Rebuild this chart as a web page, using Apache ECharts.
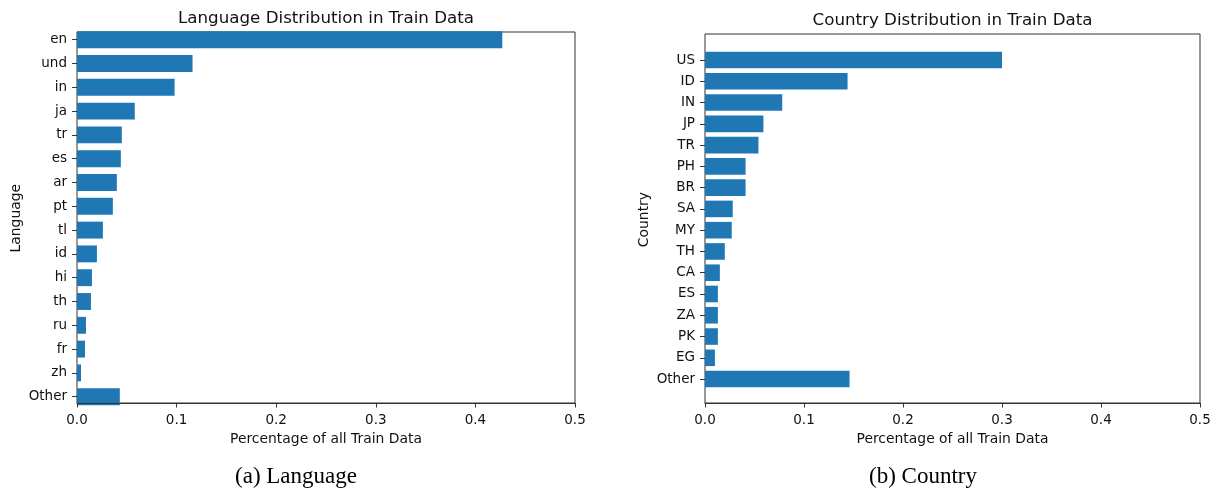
<!DOCTYPE html>
<html>
<head>
<meta charset="utf-8">
<script src="https://cdn.jsdelivr.net/npm/echarts@6/dist/echarts.min.js"></script>
<style>
  html, body { margin: 0; padding: 0; background: #ffffff; }
  #chart { width: 1219px; height: 492px; }
</style>
</head>
<body>
<div id="chart"></div>
<script>
// Share of training data per language and per country
const languages = ['en', 'und', 'in', 'ja', 'tr', 'es', 'ar', 'pt', 'tl', 'id', 'hi', 'th', 'ru', 'fr', 'zh', 'Other'];
const languageShare = [0.427, 0.116, 0.098, 0.058, 0.045, 0.044, 0.040, 0.036, 0.026, 0.020, 0.015, 0.014, 0.009, 0.008, 0.004, 0.043];

const countries = ['US', 'ID', 'IN', 'JP', 'TR', 'PH', 'BR', 'SA', 'MY', 'TH', 'CA', 'ES', 'ZA', 'PK', 'EG', 'Other'];
const countryShare = [0.300, 0.144, 0.078, 0.059, 0.054, 0.041, 0.041, 0.028, 0.027, 0.020, 0.015, 0.013, 0.013, 0.013, 0.010, 0.146];

const shareAxis = { min: 0, max: 0.5, interval: 0.1 };

const BAR = '#1f77b4';
const INK = '#111111';
const FRAME = '#333333';
const SANS = 'DejaVu Sans';
const SERIF = 'Liberation Serif';

// Visible frame + value axis for one panel
function frameGrid(left, top, width, height) {
  return { left, top, width, height, show: true, borderColor: FRAME, borderWidth: 1, backgroundColor: 'transparent', containLabel: false };
}
// Band area that positions the category rows
function bandGrid(left, top, width, height) {
  return { left, top, width, height, show: false, containLabel: false };
}

function shownX(gridIndex) {
  return {
    type: 'value', gridIndex,
    min: shareAxis.min, max: shareAxis.max, interval: shareAxis.interval,
    z: 5,
    axisLine: { show: true, lineStyle: { color: FRAME, width: 1 } },
    axisTick: { show: true, length: 4.5, lineStyle: { color: FRAME } },
    splitLine: { show: false },
    axisLabel: { show: true, margin: 10, color: INK, fontFamily: SANS, fontSize: 13.5, formatter: v => v.toFixed(1), showMaxLabel: true, showMinLabel: true },
    name: 'Percentage of all Train Data',
    nameLocation: 'middle', nameGap: 28,
    nameTextStyle: { color: INK, fontFamily: SANS, fontSize: 13.9 }
  };
}
function hiddenX(gridIndex) {
  return { type: 'value', gridIndex, min: shareAxis.min, max: shareAxis.max, show: false, splitLine: { show: false } };
}
function hiddenY(gridIndex) {
  return { type: 'value', gridIndex, show: false, splitLine: { show: false } };
}
function categoryY(gridIndex, cats, name) {
  return {
    type: 'category', gridIndex, data: cats, inverse: true,
    axisLine: { show: false },
    axisTick: { show: true, alignWithLabel: true, length: 5, lineStyle: { color: FRAME } },
    axisLabel: { margin: 10, color: INK, fontFamily: SANS, fontSize: 13.5 },
    splitLine: { show: false },
    name, nameLocation: 'middle', nameGap: 54,
    nameTextStyle: { color: INK, fontFamily: SANS, fontSize: 13.9 }
  };
}

const chart = echarts.init(document.getElementById('chart'), null, { renderer: 'canvas' });

chart.setOption({
  backgroundColor: '#ffffff',
  animation: false,
  title: [
    { text: 'Language Distribution in Train Data', left: 326, top: 10, textAlign: 'center', padding: 0,
      textStyle: { color: INK, fontFamily: SANS, fontSize: 16.7, fontWeight: 'normal' } },
    { text: 'Country Distribution in Train Data', left: 952.5, top: 12, textAlign: 'center', padding: 0,
      textStyle: { color: INK, fontFamily: SANS, fontSize: 16.7, fontWeight: 'normal' } },
    { text: '(a) Language', left: 296, top: 465, textAlign: 'center', padding: 0,
      textStyle: { color: '#000', fontFamily: SERIF, fontSize: 23, fontWeight: 'normal' } },
    { text: '(b) Country', left: 923, top: 465, textAlign: 'center', padding: 0,
      textStyle: { color: '#000', fontFamily: SERIF, fontSize: 23, fontWeight: 'normal' } }
  ],
  grid: [
    frameGrid(77, 32, 498, 371),        // 0: language frame
    bandGrid(77, 27.8, 498, 380.8),     // 1: language bars
    frameGrid(705, 34, 495, 369),       // 2: country frame
    bandGrid(705, 49.4, 495, 340.3)     // 3: country bars
  ],
  xAxis: [shownX(0), hiddenX(1), shownX(2), hiddenX(3)],
  yAxis: [
    hiddenY(0),
    categoryY(1, languages, 'Language'),
    hiddenY(2),
    categoryY(3, countries, 'Country')
  ],
  series: [
    { type: 'bar', xAxisIndex: 1, yAxisIndex: 1, data: languageShare, barCategoryGap: '29%',
      itemStyle: { color: BAR } },
    { type: 'bar', xAxisIndex: 3, yAxisIndex: 3, data: countryShare, barCategoryGap: '22%',
      itemStyle: { color: BAR } }
  ]
});
</script>
</body>
</html>
